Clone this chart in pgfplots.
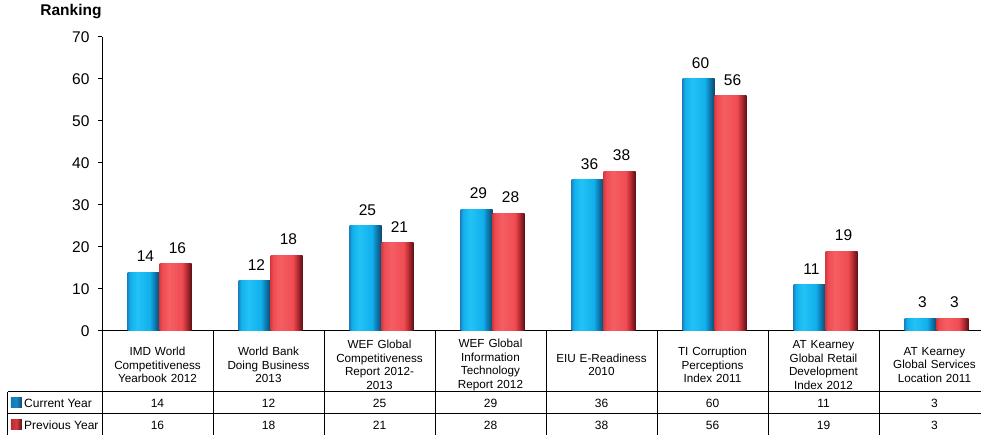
\documentclass[border=0pt]{standalone}
\usepackage{pgfplots}
\pgfplotsset{compat=1.18}
\usepackage{fontspec}
\setmainfont{Liberation Sans}
\definecolor{B1}{HTML}{1B84C4}
\definecolor{B2}{HTML}{12B0EC}
\definecolor{B3}{HTML}{22C2F6}
\definecolor{B4}{HTML}{0E7CB4}
\definecolor{B5}{HTML}{0A4A6C}
\definecolor{R1}{HTML}{D63A40}
\definecolor{R2}{HTML}{EE4C52}
\definecolor{R3}{HTML}{F55E64}
\definecolor{R4}{HTML}{B82C32}
\definecolor{R5}{HTML}{5A1014}
\pgfdeclarehorizontalshading{bluebar}{100bp}{color(0bp)=(B1); color(25bp)=(B1); color(29bp)=(B2); color(40bp)=(B3); color(60bp)=(B2); color(67bp)=(B4); color(75bp)=(B5); color(100bp)=(B5)}
\pgfdeclarehorizontalshading{redbar}{100bp}{color(0bp)=(R1); color(25bp)=(R1); color(29bp)=(R2); color(40bp)=(R3); color(60bp)=(R2); color(67bp)=(R4); color(75bp)=(R5); color(100bp)=(R5)}
\pgfdeclarehorizontalshading{blueicon}{100bp}{color(0bp)=(B4); color(25bp)=(B4); color(50bp)=(B1); color(75bp)=(B5); color(100bp)=(B5)}
\pgfdeclarehorizontalshading{redicon}{100bp}{color(0bp)=(R4); color(25bp)=(R4); color(50bp)=(R1); color(75bp)=(R5); color(100bp)=(R5)}
\begin{document}
\begin{tikzpicture}[font=\fontsize{12}{14}\selectfont]
\useasboundingbox (-102pt,-104pt) rectangle (879pt,331pt);
\begin{axis}[
  at={(0pt,0pt)}, anchor=south west,
  scale only axis, width=888pt, height=294pt,
  xmin=-0.5, xmax=7.5, ymin=0, ymax=70,
  axis lines=left, axis line style={-, black, line width=1pt},
  ytick={0,10,...,70}, tick align=outside, major tick length=4pt,
  ytick style={black, line width=1pt},
  yticklabel style={font=\fontsize{15.5}{16}\selectfont, xshift=-5pt},
  /pgf/number format/assume math mode=true,
  xtick={0,...,7}, xtick style={draw=none},
  xticklabels={{IMD World\\Competitiveness\\Yearbook 2012},
    {World Bank\\Doing Business\\2013},
    {WEF Global\\Competitiveness\\Report 2012-\\2013},
    {WEF Global\\Information\\Technology\\Report 2012},
    {EIU E-Readiness\\2010},
    {TI Corruption\\Perceptions\\Index 2011},
    {AT Kearney\\Global Retail\\Development\\Index 2012},
    {AT Kearney\\Global Services\\Location 2011}},
  xticklabel style={anchor=center, yshift=-30pt, text width=110pt, align=center, font=\fontsize{11.7}{13.5}\selectfont},
  ybar=0pt, bar width=32pt,
  nodes near coords,
  nodes near coords style={font=\fontsize{15.5}{16}\selectfont, yshift=7pt, xshift=2pt, black},
  clip=false,
  cur/.style={draw=none, shade, shading=bluebar, bar shift=-14pt},
  prev/.style={draw=none, shade, shading=redbar, bar shift=18pt},
]
\addplot[cur] coordinates {(0,14)};
\addplot[prev] coordinates {(0,16)};
\addplot[cur] coordinates {(1,12)};
\addplot[prev] coordinates {(1,18)};
\addplot[cur] coordinates {(2,25)};
\addplot[prev] coordinates {(2,21)};
\addplot[cur] coordinates {(3,29)};
\addplot[prev] coordinates {(3,28)};
\addplot[cur] coordinates {(4,36)};
\addplot[prev] coordinates {(4,38)};
\addplot[cur] coordinates {(5,60)};
\addplot[prev] coordinates {(5,56)};
\addplot[cur] coordinates {(6,11)};
\addplot[prev] coordinates {(6,19)};
\addplot[cur] coordinates {(7,3)};
\addplot[prev] coordinates {(7,3)};
\end{axis}
% data table
\begin{scope}[line width=1pt]
\draw (-94pt,-61pt) -- (900pt,-61pt);
\draw (-94pt,-83pt) -- (900pt,-83pt);
\draw (-94pt,-105pt) -- (900pt,-105pt);
\draw (-94pt,-61pt) -- (-94pt,-105pt);
\foreach \i in {0,...,8} {\draw (111*\i pt,0pt) -- (111*\i pt,-105pt);}
\end{scope}
\foreach \v [count=\i from 0] in {14,12,25,29,36,60,11,3} {\node at (55.5pt+111*\i pt,-72pt) {\v};}
\foreach \v [count=\i from 0] in {16,18,21,28,38,56,19,3} {\node at (55.5pt+111*\i pt,-94pt) {\v};}
\shade[shading=blueicon] (-91pt,-77pt) rectangle (-80pt,-67pt);
\shade[shading=redicon] (-91pt,-99pt) rectangle (-80pt,-89pt);
\node[anchor=west, inner sep=0pt] at (-78pt,-72pt) {Current Year};
\node[anchor=west, inner sep=0pt] at (-78pt,-94pt) {Previous Year};
\node[font=\bfseries\fontsize{15.5}{16}\selectfont] at (-31pt,319pt) {Ranking};
\end{tikzpicture}
\end{document}
